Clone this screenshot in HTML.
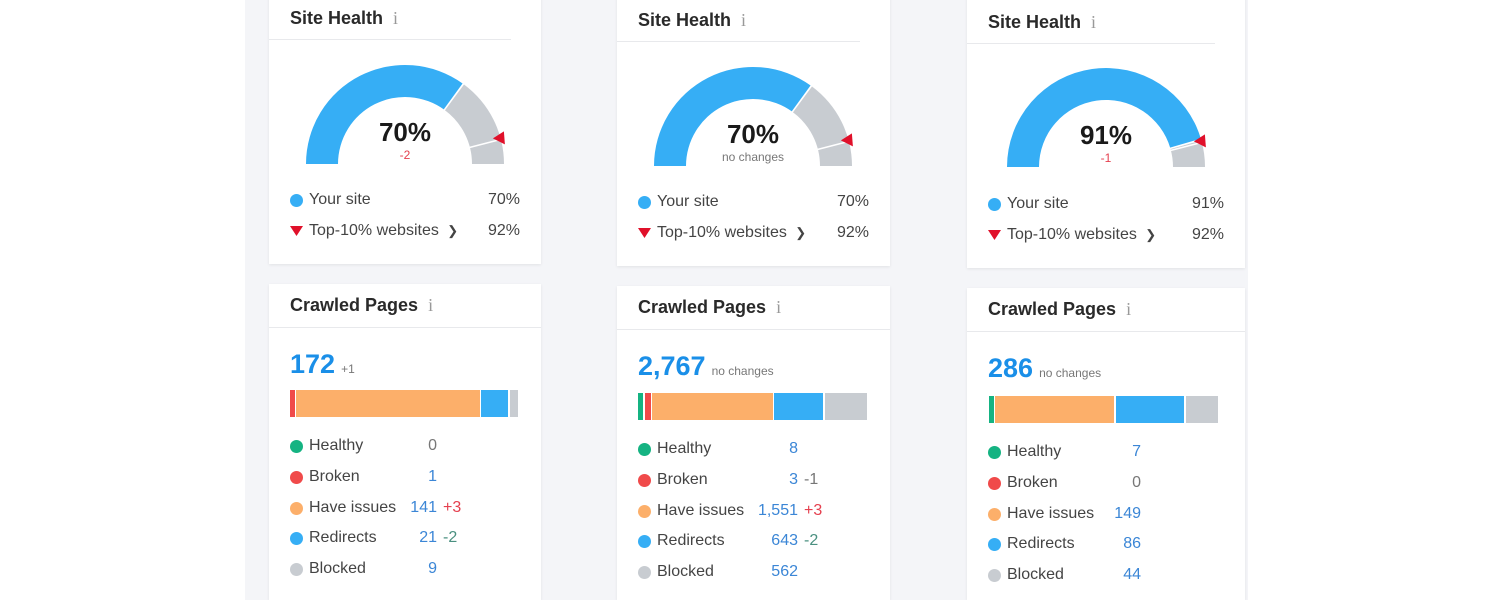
<!DOCTYPE html>
<html><head><meta charset="utf-8"><style>
*{margin:0;padding:0;box-sizing:border-box}
html{width:1500px;height:600px;overflow:hidden}
body{width:1500px;height:600px;background:#fff;position:relative;overflow:hidden;font-family:"Liberation Sans",sans-serif;color:#333}
#bg{position:absolute;left:245px;top:0;width:1003px;height:600px;background:#f4f5f8}
.card{position:absolute;background:#fff;box-shadow:0 1px 3px rgba(0,0,0,0.08)}
.t{position:absolute;white-space:nowrap}
.ttl{font-size:18px;font-weight:bold;color:#2a2a2a}
.ttl i{font-weight:normal;color:#999;font-style:normal;margin-left:10px;font-family:"Liberation Serif",serif}
.hr{position:absolute;height:1px;background:#e8e9ec}
.dot{position:absolute;width:13px;height:13px;border-radius:50%}
.lg{font-size:16px;color:#444}
.v{font-size:16px;color:#3b86d6;text-align:right}
</style></head><body>
<div id="bg"></div>
<div id="root"></div>
<script>
const cols=[
 {x:269,w:272,dy:0,cx:405,cy:164,pct:70,sub:"-2",subc:"#e5404f",val:"70%",num:"172",numsub:"+1",vr:437,
  bar:[[290,295,"#f04a4a"],[296,480,"#fcaf6a"],[481,508,"#36aef5"],[510,518,"#c8ccd1"]],
  rows:[["0","",""],["1","",""],["141","+3","#e5404f"],["21","-2","#4a9080"],["9","",""]]},
 {x:617,w:273,dy:2,cx:753,cy:166,pct:70,sub:"no changes",subc:"#777",val:"70%",num:"2,767",numsub:"no changes",vr:798,
  bar:[[638,643,"#15b382"],[645,651,"#f04a4a"],[652,773,"#fcaf6a"],[774,823,"#36aef5"],[825,867,"#c8ccd1"]],
  rows:[["8","",""],["3","-1","#777"],["1,551","+3","#e5404f"],["643","-2","#4a9080"],["562","",""]]},
 {x:967,w:278,dy:4,cx:1106,cy:167,pct:91,sub:"-1",subc:"#e5404f",val:"91%",num:"286",numsub:"no changes",vr:1141,
  bar:[[989,994,"#15b382"],[995,1114,"#fcaf6a"],[1116,1184,"#36aef5"],[1186,1218,"#c8ccd1"]],
  rows:[["7","",""],["0","",""],["149","",""],["86","",""],["44","",""]]}
];
let h="";
function pt(cx,cy,r,a){return [cx+r*Math.cos(a),cy-r*Math.sin(a)];}
function arc(cx,cy,R,r,a1,a2,col){
 const [x1,y1]=pt(cx,cy,R,a1),[x2,y2]=pt(cx,cy,R,a2),[x3,y3]=pt(cx,cy,r,a2),[x4,y4]=pt(cx,cy,r,a1);
 return `<path d="M${x1} ${y1}A${R} ${R} 0 0 1 ${x2} ${y2}L${x3} ${y3}A${r} ${r} 0 0 0 ${x4} ${y4}Z" fill="${col}"/>`;}
const names=["Healthy","Broken","Have issues","Redirects","Blocked"];
const dc=["#15b382","#f04a4a","#fcaf6a","#36aef5","#c8ccd1"];
cols.forEach((c,i)=>{
 const d=c.dy, L=c.x+21, R=c.x+c.w-21;
 h+=`<div class="card" style="left:${c.x}px;top:-10px;width:${c.w}px;height:${274+d}px"></div>`;
 h+=`<div class="t ttl" style="left:${L}px;top:${8+d}px">Site Health<i>i</i></div>`;
 h+=`<div class="hr" style="left:${c.x}px;top:${39+d}px;width:${c.w-30}px"></div>`;
 let s=`<svg style="position:absolute;left:0;top:0" width="1500" height="600">`;
 const ab=Math.PI*(1-c.pct/100), at=Math.PI*(1-0.92);
 s+=arc(c.cx,c.cy,99,67,Math.PI,ab,"#36aef5");
 s+=arc(c.cx,c.cy,99,67,ab-0.01,0,"#c8ccd1");
 s+=`<line x1="${pt(c.cx,c.cy,66,ab)[0]}" y1="${pt(c.cx,c.cy,66,ab)[1]}" x2="${pt(c.cx,c.cy,100,ab)[0]}" y2="${pt(c.cx,c.cy,100,ab)[1]}" stroke="#fff" stroke-width="1.5"/>`;
 s+=`<line x1="${pt(c.cx,c.cy,66,at)[0]}" y1="${pt(c.cx,c.cy,66,at)[1]}" x2="${pt(c.cx,c.cy,100,at)[0]}" y2="${pt(c.cx,c.cy,100,at)[1]}" stroke="#fff" stroke-width="1.5"/>`;
 const [tx,ty]=pt(c.cx,c.cy,99,at);
 s+=`<polygon points="${tx-8},${ty-1} ${tx+3},${ty-8} ${tx+4},${ty+5}" fill="#e0102a"/>`;
 s+=`</svg>`;h+=s;
 h+=`<div class="t" style="left:${c.cx-60}px;width:120px;text-align:center;top:${c.cy-47}px;font-size:26px;font-weight:bold;color:#1a1a1a">${c.val}</div>`;
 h+=`<div class="t" style="left:${c.cx-60}px;width:120px;text-align:center;top:${c.cy-16}px;font-size:12px;color:${c.subc}">${c.sub}</div>`;
 h+=`<div class="dot" style="left:${L}px;top:${194+d}px;background:#36aef5"></div>`;
 h+=`<div class="t lg" style="left:${L+19}px;top:${191+d}px">Your site</div>`;
 h+=`<div class="t lg" style="left:${R-60}px;width:60px;text-align:right;top:${191+d}px">${c.val}</div>`;
 h+=`<svg style="position:absolute;left:${L}px;top:${226+d}px" width="14" height="11"><polygon points="0,0 13,0 6.5,10" fill="#e0102a"/></svg>`;
 h+=`<div class="t lg" style="left:${L+19}px;top:${222+d}px">Top-10% websites <span style="font-size:13px;margin-left:4px">&#10095;</span></div>`;
 h+=`<div class="t lg" style="left:${R-60}px;width:60px;text-align:right;top:${222+d}px">92%</div>`;
 h+=`<div class="card" style="left:${c.x}px;top:${284+d}px;width:${c.w}px;height:${316-d}px"></div>`;
 h+=`<div class="t ttl" style="left:${L}px;top:${295+d}px">Crawled Pages<i>i</i></div>`;
 h+=`<div class="hr" style="left:${c.x}px;top:${327+d}px;width:${c.w}px"></div>`;
 h+=`<div class="t" style="left:${L}px;top:${349+d}px;font-size:27px;font-weight:bold;color:#1a8fe8">${c.num}<span style="font-size:12px;font-weight:normal;color:#777;margin-left:6px">${c.numsub}</span></div>`;
 const by=390+d*1.5;
 c.bar.forEach(b=>{h+=`<div style="position:absolute;left:${b[0]}px;top:${by}px;width:${b[1]-b[0]}px;height:27px;background:${b[2]}"></div>`;});
 c.rows.forEach((r,k)=>{
  const y=437+k*30.8+d*1.5;
  h+=`<div class="dot" style="left:${L}px;top:${y+3}px;background:${dc[k]}"></div>`;
  h+=`<div class="t lg" style="left:${L+19}px;top:${y}px">${names[k]}</div>`;
  const vc=(r[0]=="0")?"#777":"#3b86d6";
  h+=`<div class="t v" style="left:${c.vr-60}px;width:60px;top:${y}px;color:${vc}">${r[0]}</div>`;
  if(r[1])h+=`<div class="t v" style="left:${c.vr+6}px;text-align:left;top:${y}px;color:${r[2]}">${r[1]}</div>`;
 });
});
document.getElementById("root").innerHTML=h;
</script>
</body></html>
